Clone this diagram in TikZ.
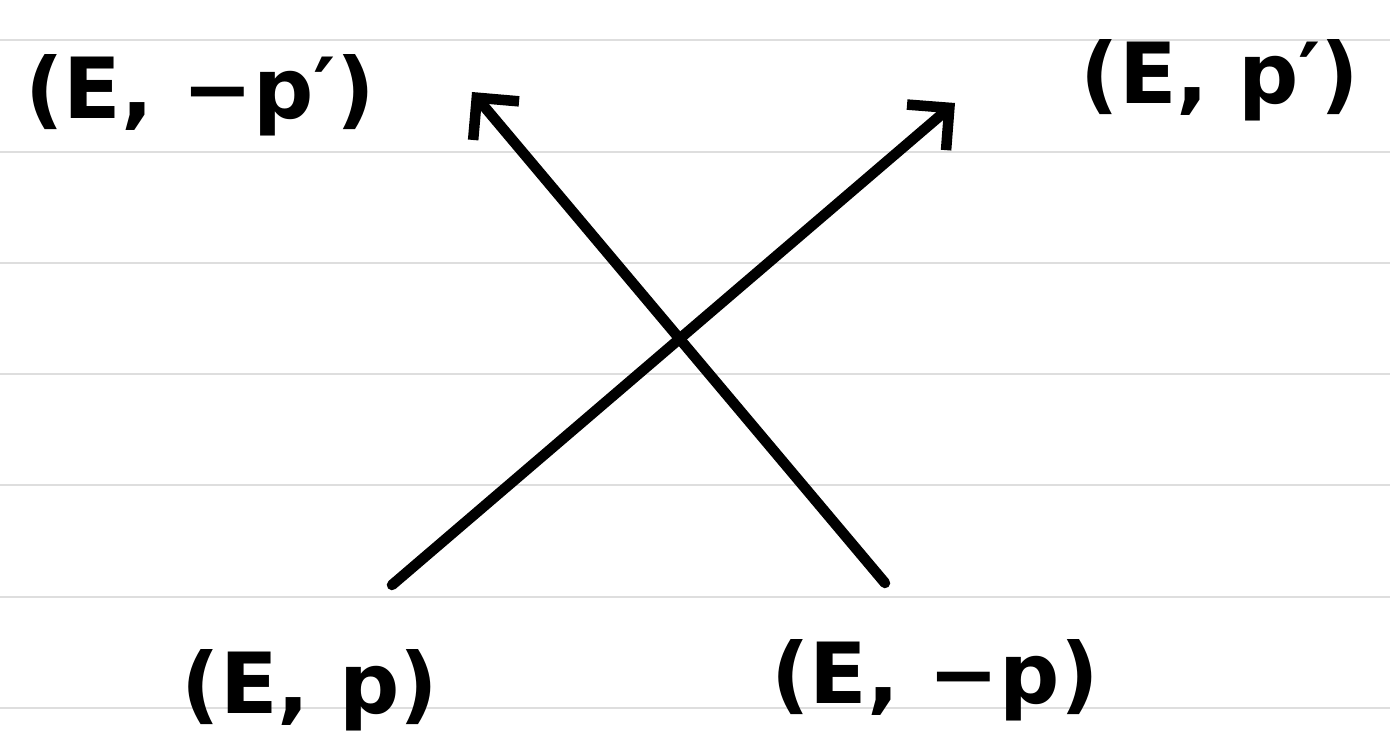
\documentclass[tikz,border=0pt]{standalone}
\usepackage{fontspec}
\setmainfont{DejaVu Sans}
\usepackage{tikz}
\usetikzlibrary{arrows.meta}
\definecolor{ruleline}{RGB}{222,222,222}

\begin{document}
\begin{tikzpicture}[>={Straight Barb[length=6mm, width=12mm]},
    label/.style={font=\bfseries\fontsize{48}{52}\selectfont, inner sep=0pt},
    stroke/.style={line width=6pt, line cap=round, ->}]
  \useasboundingbox (0,0) rectangle (27.8,-14.84);
  % ruled paper
  \foreach \y in {-0.8, -3.04, -5.26, -7.48, -9.7, -11.94, -14.16}{
    \draw[ruleline, line width=1.3pt] (0,\y) -- (27.8,\y);
  }
  % the four states
  \node[label] (empp) at (4.0,-1.9) {(E, −p′)};
  \node[label] (epp) at (24.4,-1.6) {(E, p′)};
  \node[label] (ep) at (6.2,-13.8) {(E, p)};
  \node[label] (emp) at (18.7,-13.6) {(E, −p)};
  \coordinate (ep start) at (7.84,-11.7);
  \coordinate (ep end) at (19.1,-2.06);
  \coordinate (emp start) at (17.7,-11.66);
  \coordinate (emp end) at (9.44,-1.84);
  \draw[stroke] (ep start) -- (ep end);
  \draw[stroke] (emp start) -- (emp end);
\end{tikzpicture}
\end{document}
